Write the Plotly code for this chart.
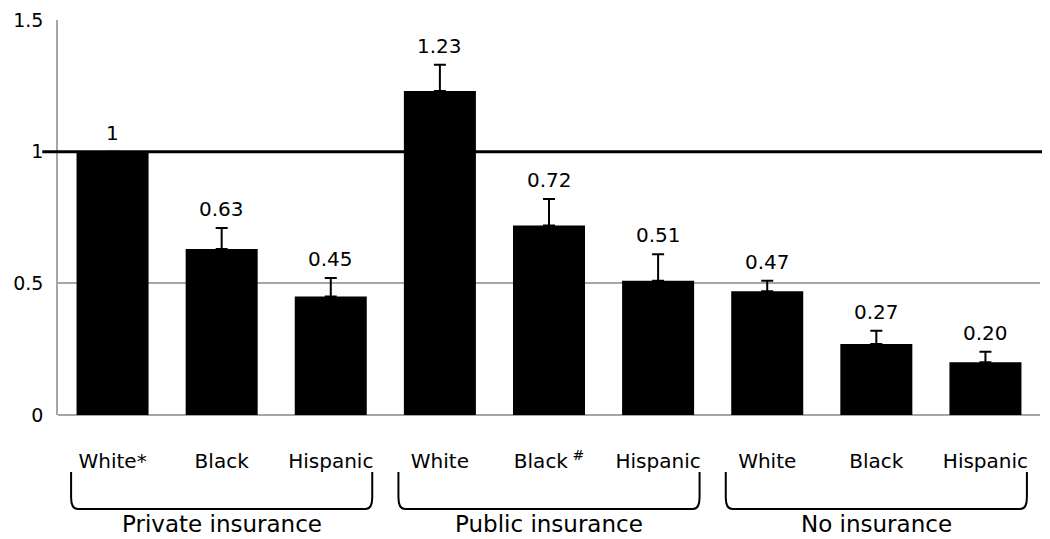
import plotly.graph_objects as go

tick_labels = ["White*", "Black", "Hispanic", "White", "Black<sup> #</sup>", "Hispanic", "White", "Black", "Hispanic"]
values = [1.0, 0.63, 0.45, 1.23, 0.72, 0.51, 0.47, 0.27, 0.20]
err_plus = [0.0, 0.08, 0.07, 0.10, 0.10, 0.10, 0.04, 0.05, 0.04]
value_labels = ["1", "0.63", "0.45", "1.23", "0.72", "0.51", "0.47", "0.27", "0.20"]
groups = ["Private insurance", "Public insurance", "No insurance"]
group_centers = [1, 4, 7]

FONT = "DejaVu Sans"
x_idx = list(range(len(values)))

fig = go.Figure()
fig.add_trace(go.Bar(
    x=x_idx, y=values,
    marker=dict(color="black", line=dict(width=0)),
    error_y=dict(type="data", symmetric=False, array=err_plus, arrayminus=[0]*len(values),
                 color="black", thickness=2, width=6),
    width=0.66,
    showlegend=False,
))

annotations = []
for xi, v, e, lab in zip(x_idx, values, err_plus, value_labels):
    annotations.append(dict(x=xi, y=v + e, xref="x", yref="y", text=lab, showarrow=False,
                            yanchor="bottom", yshift=5,
                            font=dict(family=FONT, size=20, color="black")))

shapes = [
    dict(type="line", xref="paper", yref="y", x0=-0.016, x1=1.011, y0=1, y1=1,
         line=dict(color="black", width=3)),
]
half = 1.38
yt, yb, r = -0.144, -0.238, 0.03
for g, c in zip(groups, group_centers):
    x0, x1 = c - half, c + half
    rx = 0.06
    path = (f"M {x0},{yt} L {x0},{yb + r} Q {x0},{yb} {x0 + rx},{yb} "
            f"L {x1 - rx},{yb} Q {x1},{yb} {x1},{yb + r} L {x1},{yt}")
    shapes.append(dict(type="path", xref="x", yref="paper", path=path,
                       line=dict(color="black", width=2)))
    annotations.append(dict(x=c, y=-0.275, xref="x", yref="paper", text=g,
                            showarrow=False, yanchor="middle",
                            font=dict(family=FONT, size=23, color="black")))

fig.update_layout(
    width=1042, height=531,
    margin=dict(l=50, r=10, t=12, b=124),
    plot_bgcolor="white", paper_bgcolor="white",
    bargap=0.34,
    shapes=shapes, annotations=annotations,
    xaxis=dict(range=[-0.5, 8.5], tickvals=x_idx, ticktext=tick_labels,
               showgrid=False, zeroline=False, showline=False, ticks="",
               tickfont=dict(family=FONT, size=20, color="black"),
               ticklabelstandoff=32, automargin=False),
    yaxis=dict(range=[0, 1.5], tickvals=[0, 0.5, 1, 1.5], ticktext=["0", "0.5", "1", "1.5"],
               showgrid=True, gridcolor="#a6a6a6", gridwidth=1.5,
               zeroline=True, zerolinecolor="#a6a6a6", zerolinewidth=1.5,
               showline=True, linecolor="#a6a6a6", linewidth=1.5,
               ticks="", tickfont=dict(family=FONT, size=19, color="black"),
               ticklabelstandoff=9, ticklabeloverflow="allow", automargin=False),
)

fig.write_html("out.html")
